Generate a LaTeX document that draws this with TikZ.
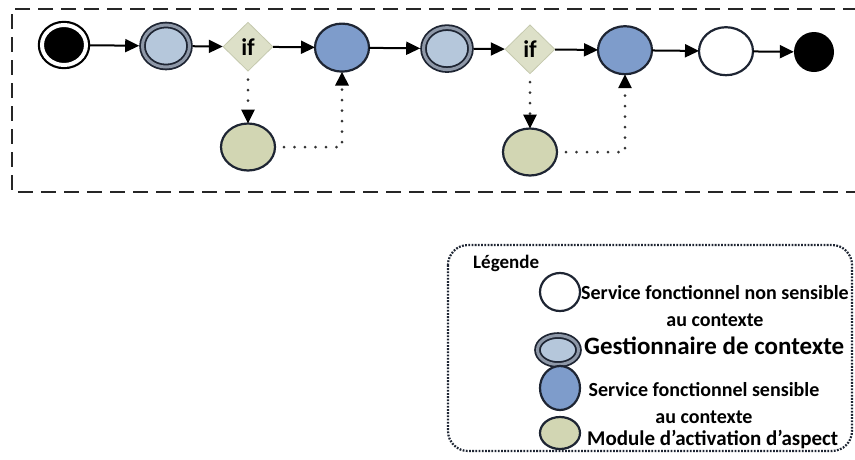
\documentclass[tikz,border=0pt]{standalone}
\usepackage{fontspec}
\setmainfont{Carlito}
\usetikzlibrary{arrows.meta,shapes.geometric}
\definecolor{edge}{HTML}{1E2533}
\definecolor{bluef}{HTML}{7E9CCB}
\definecolor{lbluef}{HTML}{B5C7DB}
\definecolor{ringc}{HTML}{8E98A8}
\definecolor{greenf}{HTML}{D2D6B3}
\definecolor{diamf}{HTML}{DDE0C8}
\definecolor{diamd}{HTML}{C5C9AE}
\begin{document}
\begin{tikzpicture}[x=1pt,y=-1pt,
  ell/.style={ellipse, inner sep=0pt, outer sep=0pt, line width=2.2pt, draw=edge},
  startn/.style={ell, fill=black, draw=black, double=white, double distance=4pt,
      minimum width=44pt, minimum height=40pt, outer sep=4pt},
  gest/.style={ell, line width=1.8pt, fill=lbluef, double=ringc, double distance=3pt,
      minimum width=47pt, minimum height=42pt, outer sep=3.3pt},
  sens/.style={ell, fill=bluef, minimum width=54pt, minimum height=48pt},
  plain/.style={ell, fill=white, minimum width=54pt, minimum height=48pt},
  aspect/.style={ell, fill=greenf, minimum width=54pt, minimum height=47pt},
  endn/.style={circle, fill=black, minimum size=40pt, inner sep=0pt},
  cond/.style={diamond, fill=diamf, draw=diamd, line width=0.8pt, inner sep=0pt,
      minimum width=50pt, minimum height=49pt, font=\bfseries\fontsize{24}{24}\selectfont},
  flow/.style={line width=2pt, draw=black, -{Triangle[length=14pt,width=13pt]}},
  dotflow/.style={line width=3pt, draw=black!80, dash pattern=on 0pt off 10.5pt, line cap=round,
      -{Triangle[length=14pt,width=13pt,color=black]}},
  frame/.style={line width=2.4pt, draw=black!85, dash pattern=on 15pt off 8pt},
  legbox/.style={line width=2.2pt, draw=edge, dash pattern=on 1.8pt off 1.4pt, rounded corners=20pt},
  legtxt/.style={inner sep=0pt, font=\bfseries\fontsize{20}{27}\selectfont, text=black}
]
\useasboundingbox (0,0) rectangle (855,459);

% frame (open on the right)
\draw[frame] (858,9) -- (12,9) -- (12,192) -- (858,192);

% main row
\node[startn] (st) at (64,45) {};
\node[gest]   (g1) at (166,46) {};
\node[cond]   (if1) at (248,46.7) {if};
\node[sens]   (b1) at (342,47.6) {};
\node[gest]   (g2) at (447,48.6) {};
\node[cond]   (if2) at (530,49.3) {if};
\node[sens]   (b2) at (625,50.2) {};
\node[plain]  (w)  at (726,51.2) {};
\node[endn]   (en) at (814,52) {};

% aspect modules
\node[aspect] (gr1) at (248,147) {};
\node[aspect] (gr2) at (530,152) {};

% solid flow
\draw[flow] (st) -- (g1);
\draw[flow] (g1) -- (if1);
\draw[flow] (if1) -- (b1);
\draw[flow] (b1) -- (g2);
\draw[flow] (g2) -- (if2);
\draw[flow] (if2) -- (b2);
\draw[flow] (b2) -- (w);
\draw[flow] (w) -- (en);

% dotted flow
\draw[dotflow, shorten <=8pt] (if1) -- (gr1);
\draw[dotflow, shorten <=9pt] (gr1) -- (gr1 -| b1) -- (b1);
\draw[dotflow, shorten <=8pt] (if2) -- (gr2);
\draw[dotflow, shorten <=9pt] (gr2) -- (gr2 -| b2) -- (b2);

% legend
\draw[legbox] (448,245) rectangle (852,451);
\node[legtxt, anchor=west, font=\bfseries\fontsize{19}{19}\selectfont] (lt) at (473,263) {Légende};
\node[plain, minimum width=40pt, minimum height=38pt] (l1) at (560,292) {};
\node[legtxt, align=center] (t1) at (715,306) {Service fonctionnel non sensible\\au contexte};
\node[gest, minimum width=41pt, minimum height=29pt] (l2) at (558,350) {};
\node[legtxt, anchor=west, font=\bfseries\fontsize{25}{25}\selectfont] (t2) at (584,346) {Gestionnaire de contexte};
\node[sens, minimum width=40pt, minimum height=44pt] (l3) at (560,388) {};
\node[legtxt, align=center] (t3) at (704,403) {Service fonctionnel sensible\\au contexte};
\node[aspect, minimum width=40pt, minimum height=32pt] (l4) at (560,433) {};
\node[legtxt, anchor=west, font=\bfseries\fontsize{21}{21}\selectfont] (t4) at (587,440) {Module d’activation d’aspect};
\end{tikzpicture}
\end{document}
